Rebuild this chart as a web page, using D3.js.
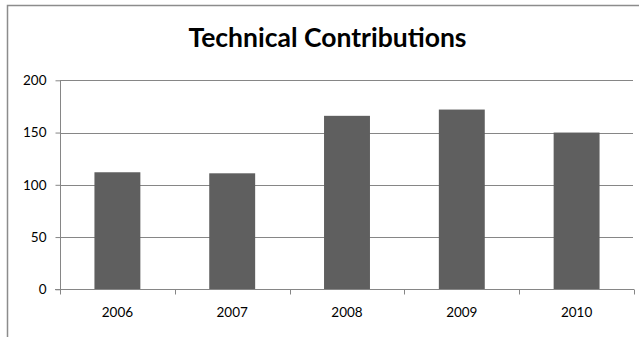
<!DOCTYPE html>
<html>
<head>
<meta charset="utf-8">
<script src="https://cdn.jsdelivr.net/npm/d3@7"></script>
<style>
  html, body { margin: 0; padding: 0; background: #fff; }
  svg { display: block; }
  text { font-family: Lato, "Open Sans", sans-serif; fill: #000; }
</style>
</head>
<body>
<svg id="chart" width="639" height="337"></svg>
<script>
// Yearly counts of technical contributions
const years = ["2006", "2007", "2008", "2009", "2010"];
const contributions = [112, 111, 166, 172, 150];
const yTicks = [0, 50, 100, 150, 200];
const chartTitle = "Technical Contributions";

const svg = d3.select("#chart");
const W = 639, H = 337;
const plot = { left: 60, right: 634, top: 80.3, bottom: 289.3 };

// outer chart frame
svg.append("rect")
  .attr("x", 7.5).attr("y", 5.5)
  .attr("width", W + 10).attr("height", H + 10)
  .attr("fill", "#fff")
  .attr("stroke", "#8c8c8c")
  .attr("stroke-width", 1.5);

svg.append("text")
  .attr("x", 327.5).attr("y", 47)
  .attr("text-anchor", "middle")
  .attr("font-size", 26.5)
  .attr("font-weight", "bold")
  .text(chartTitle);

const x = d3.scaleBand().domain(years).range([plot.left, plot.right]).padding(0);
const y = d3.scaleLinear().domain([0, 200]).range([plot.bottom, plot.top]);

// horizontal gridlines
svg.append("g")
  .selectAll("line")
  .data(yTicks.filter(d => d > 0))
  .join("line")
  .attr("x1", plot.left).attr("x2", plot.right - 1)
  .attr("y1", d => Math.round(y(d)) + 0.5)
  .attr("y2", d => Math.round(y(d)) + 0.5)
  .attr("stroke", "#868686")
  .attr("stroke-width", 1);

// bars
const barFrac = 0.4;
svg.append("g")
  .selectAll("rect")
  .data(years.map((yr, i) => ({ yr, v: contributions[i] })))
  .join("rect")
  .attr("x", d => x(d.yr) + x.bandwidth() * (1 - barFrac) / 2)
  .attr("width", x.bandwidth() * barFrac)
  .attr("y", d => y(d.v))
  .attr("height", d => y(0) - y(d.v))
  .attr("fill", "#5f5f5f");

// y axis
const yAxis = d3.axisLeft(y).tickValues(yTicks).tickSize(5).tickPadding(9);
const gy = svg.append("g")
  .attr("transform", `translate(${plot.left + 0.5},0)`)
  .call(yAxis);
gy.select(".domain").attr("stroke", "#868686").attr("d", `M0,${plot.top}V${plot.bottom}`);
gy.selectAll(".tick line").attr("stroke", "#868686");
gy.selectAll(".tick text").attr("font-size", 13.5).attr("font-family", "Lato, sans-serif").attr("fill", "#000");

// x axis with ticks at category boundaries
const gx = svg.append("g")
  .attr("transform", `translate(0,${Math.round(plot.bottom) + 0.5})`);
gx.append("line")
  .attr("x1", plot.left - 5).attr("x2", plot.right)
  .attr("stroke", "#868686");
gx.selectAll("line.tk")
  .data(years.concat(["end"]))
  .join("line")
  .attr("class", "tk")
  .attr("x1", (d, i) => Math.round(plot.left + i * x.step()) + 0.5)
  .attr("x2", (d, i) => Math.round(plot.left + i * x.step()) + 0.5)
  .attr("y1", 0).attr("y2", 5)
  .attr("stroke", "#868686");
gx.selectAll("text")
  .data(years)
  .join("text")
  .attr("x", d => x(d) + x.bandwidth() / 2)
  .attr("y", 27)
  .attr("text-anchor", "middle")
  .attr("font-size", 13.5)
  .text(d => d);
</script>
</body>
</html>
